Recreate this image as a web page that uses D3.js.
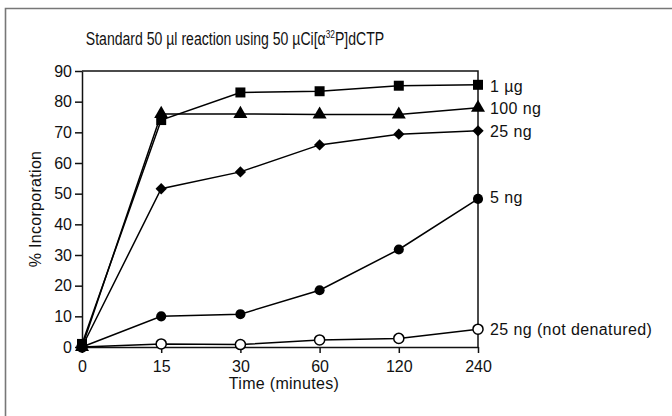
<!DOCTYPE html>
<html>
<head>
<meta charset="utf-8">
<script src="https://cdn.jsdelivr.net/npm/d3@7"></script>
<style>
  body { margin: 0; background: #fff; }
  text { font-family: "Liberation Sans", Arial, sans-serif; fill: #111; }
</style>
</head>
<body>
<div id="chart-area"></div>
<script>
// --- Data ---
var times = ["0", "15", "30", "60", "120", "240"];
var yTicks = [0, 10, 20, 30, 40, 50, 60, 70, 80, 90];

var oneUg      = [1, 74, 83, 83.4, 85.2, 85.5];
var ng100      = [0, 76, 76, 75.8, 75.8, 78];
var ng25       = [0, 51.6, 57.1, 65.9, 69.4, 70.5];
var ng5        = [0, 10, 10.7, 18.5, 31.8, 48.3];
var ng25NotDen = [0, 1, 0.8, 2.3, 2.8, 5.8];

var seriesNames = ["1 µg", "100 ng", "25 ng", "5 ng", "25 ng (not denatured)"];

// --- Setup the canvas ---
var W = 672, H = 416;
var margins = {top: 71, bottom: 69, left: 82, right: 194};
var width = W - margins.left - margins.right;
var height = H - margins.top - margins.bottom;

var svg = d3.select("#chart-area").append("svg")
    .attr("width", W)
    .attr("height", H);

// outer frame (only top and left edges show)
svg.append("path")
    .attr("d", "M5.5," + H + "V8.5H" + W)
    .attr("fill", "none")
    .attr("stroke", "#777")
    .attr("stroke-width", 1.6);

var group = svg.append("g")
    .attr("transform", "translate(" + margins.left + ", " + margins.top + ")");

// --- Scales ---
var x = d3.scalePoint().domain(times).range([0, width]);
var y = d3.scaleLinear().domain([0, 90]).range([height, 0]);

// --- Axes ---
var xAxisGroup = group.append("g")
    .attr("transform", "translate(0, " + height + ")")
    .call(d3.axisBottom(x).tickSize(6).tickPadding(8).tickSizeOuter(0));

var yAxisGroup = group.append("g")
    .call(d3.axisLeft(y).tickValues(yTicks).tickSize(7).tickPadding(3).tickSizeOuter(0));

[xAxisGroup, yAxisGroup].forEach(function(g) {
    g.attr("font-size", null).attr("font-family", null);
    g.selectAll("path, line").attr("stroke", "#111").attr("stroke-width", 1.5);
    g.selectAll("text").style("font-size", "16px").attr("fill", "#111");
});

// top + right edges of the box
group.append("path")
    .attr("d", "M0,0H" + width + "V" + height)
    .attr("fill", "none")
    .attr("stroke", "#111")
    .attr("stroke-width", 1.5);

// --- Labels ---
// title is set in a condensed face, so squeeze it horizontally
svg.append("text")
    .attr("transform", "translate(235, 45) scale(0.76, 1)")
    .attr("text-anchor", "middle")
    .style("font-size", "18.5px")
    .html("Standard 50 µl reaction using 50 µCi[α<tspan font-size='11px' dy='-7'>32</tspan><tspan dy='7'>P]dCTP</tspan>");

svg.append("text")
    .attr("x", margins.left + width / 2 + 4)
    .attr("y", 389)
    .attr("text-anchor", "middle")
    .style("font-size", "16px")
    .style("letter-spacing", "0.3px")
    .text("Time (minutes)");

svg.append("text")
    .attr("transform", "translate(41, " + (margins.top + height / 2) + ") rotate(-90)")
    .attr("text-anchor", "middle")
    .style("font-size", "16px")
    .style("letter-spacing", "0.3px")
    .text("% Incorporation");

// --- Series ---
var series = [
    {name: seriesNames[0], values: oneUg, marker: "square", fill: "#000"},
    {name: seriesNames[1], values: ng100, marker: "triangle", fill: "#000"},
    {name: seriesNames[2], values: ng25, marker: "diamond", fill: "#000"},
    {name: seriesNames[3], values: ng5, marker: "circle", fill: "#000"},
    {name: seriesNames[4], values: ng25NotDen, marker: "circle", fill: "#fff"}
];

var line = d3.line()
    .x(function(d, i) { return x(times[i]); })
    .y(function(d) { return y(d); });

group.selectAll(".series-line").data(series.slice().reverse())
    .enter().append("path")
    .attr("class", "series-line")
    .attr("d", function(d) { return line(d.values); })
    .attr("fill", "none")
    .attr("stroke", "#000")
    .attr("stroke-width", 1.5);

var symbols = {
    square: d3.symbol().type(d3.symbolSquare).size(100),
    triangle: d3.symbol().type(d3.symbolTriangle).size(85),
    diamond: d3.symbol().type(d3.symbolSquare).size(64),
    circle: d3.symbol().type(d3.symbolCircle).size(80)
};

series.slice().reverse().forEach(function(s) {
    group.selectAll(null).data(s.values)
        .enter().append("path")
        .attr("transform", function(d, i) {
            return "translate(" + x(times[i]) + "," + y(d) + ")" + (s.marker === "diamond" ? " rotate(45)" : "");
        })
        .attr("d", symbols[s.marker]())
        .attr("fill", s.fill)
        .attr("stroke", "#000")
        .attr("stroke-width", s.fill === "#fff" ? 1.5 : 0);
});

// end labels
var labelNudge = [2, 1, 1, -1, 0];
group.selectAll(".end-label").data(series)
    .enter().append("text")
    .attr("class", "end-label")
    .attr("x", width + 12)
    .attr("y", function(d, i) { return y(d.values[d.values.length - 1]) + labelNudge[i]; })
    .attr("dy", "0.35em")
    .style("font-size", "16px")
    .style("letter-spacing", "0.4px")
    .text(function(d) { return d.name; });
</script>
</body>
</html>
